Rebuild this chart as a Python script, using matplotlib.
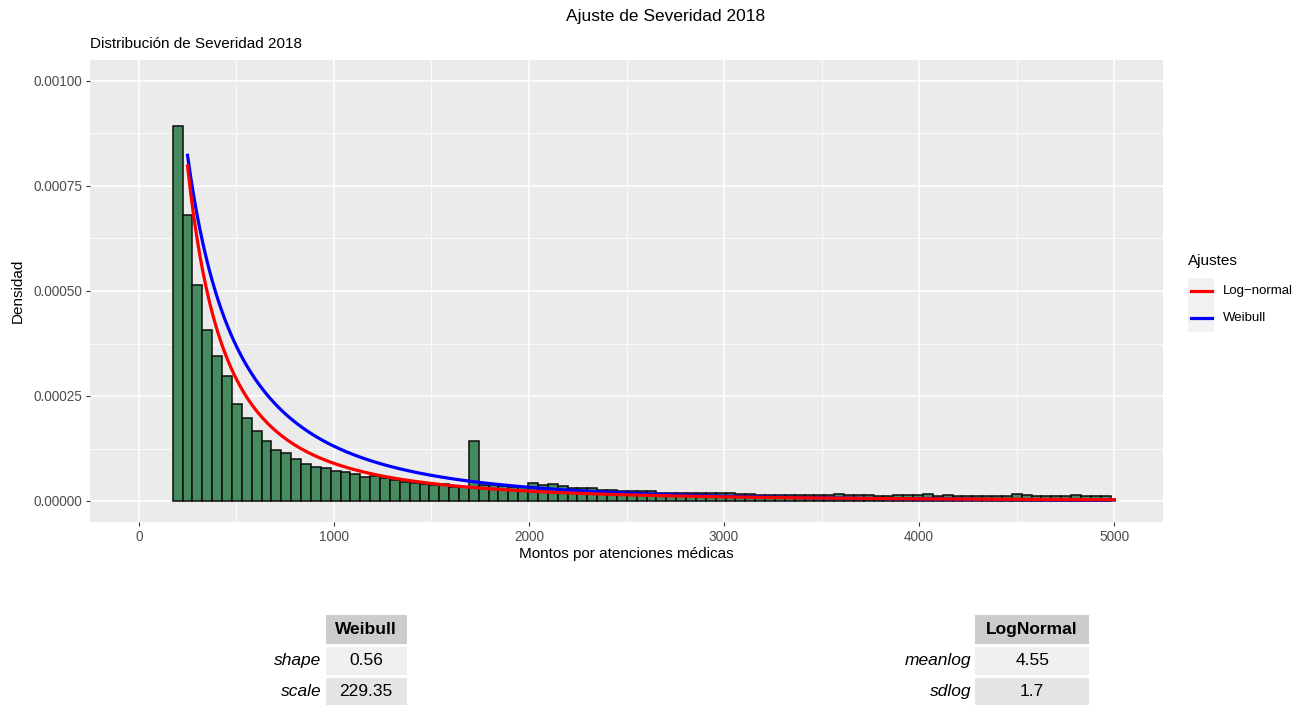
import numpy as np
import matplotlib.pyplot as plt
from matplotlib.lines import Line2D
from matplotlib.patches import Rectangle

plt.rcParams["font.family"] = ["Liberation Sans", "DejaVu Sans"]

W, H = 1315, 709

# histogram of amounts (density per bin), bins start at 174 with width ~50.6
bin_start = 174
bin_stop = 4981
density = [
    0.000894, 0.000681, 0.000515, 0.000408, 0.000346, 0.000297, 0.000232, 0.000198,
    0.000167, 0.000143, 0.000121, 0.000115, 0.000099, 0.000087, 0.000082, 0.000079,
    0.000072, 0.000070, 0.000064, 0.000056, 0.000060, 0.000054, 0.000051, 0.000046,
    0.000043, 0.000041, 0.000037, 0.000040, 0.000033, 0.000033, 0.000144, 0.000038,
    0.000037, 0.000035, 0.000033, 0.000033, 0.000042, 0.000039, 0.000040, 0.000035,
    0.000030, 0.000030, 0.000030, 0.000027, 0.000027, 0.000025, 0.000023, 0.000023,
    0.000023, 0.000019, 0.000019, 0.000020, 0.000020, 0.000019, 0.000018, 0.000018,
    0.000019, 0.000017, 0.000017, 0.000014, 0.000014, 0.000014, 0.000014, 0.000014,
    0.000014, 0.000014, 0.000014, 0.000017, 0.000014, 0.000014, 0.000014, 0.000011,
    0.000011, 0.000014, 0.000014, 0.000014, 0.000017, 0.000013, 0.000014, 0.000013,
    0.000013, 0.000011, 0.000011, 0.000011, 0.000011, 0.000017, 0.000014, 0.000011,
    0.000011, 0.000011, 0.000011, 0.000014, 0.000011, 0.000011, 0.000011,
]

# fitted parameters
weibull_shape = 0.56
weibull_scale = 229.35
lnorm_meanlog = 4.55
lnorm_sdlog = 1.7
curve_from, curve_to = 250, 5000

x_ticks = [0, 1000, 2000, 3000, 4000, 5000]
y_ticks = [0.0, 0.00025, 0.0005, 0.00075, 0.001]
y_ticklabels = ["0.00000", "0.00025", "0.00050", "0.00075", "0.00100"]


def dweibull(x, k, lam):
    return (k / lam) * (x / lam) ** (k - 1) * np.exp(-(x / lam) ** k)


def dlnorm(x, mu, sigma):
    return np.exp(-(np.log(x) - mu) ** 2 / (2 * sigma ** 2)) / (x * sigma * np.sqrt(2 * np.pi))


def fx(x):
    return x / W


def fy(y):
    return 1 - y / H


fig = plt.figure(figsize=(W / 100, H / 100), dpi=100)
ax = fig.add_axes([fx(90), fy(522), (1163 - 90) / W, (522 - 60) / H])
ax.set_facecolor("#EBEBEB")

edges = np.linspace(bin_start, bin_stop, len(density) + 1)
ax.bar(edges[:-1], density, width=np.diff(edges), align="edge",
       color="#468B60", edgecolor="#0d0d0d", linewidth=1.1, zorder=2)

xs = np.linspace(curve_from, curve_to, 600)
ax.plot(xs, dweibull(xs, weibull_shape, weibull_scale), color="#0000FF", lw=2.3, zorder=3)
ax.plot(xs, dlnorm(xs, lnorm_meanlog, lnorm_sdlog), color="#FF0000", lw=2.3, zorder=4)

ax.set_xlim(-250, 5250)
ax.set_ylim(-0.00005, 0.00105)
ax.set_xticks(x_ticks)
ax.set_xticklabels([str(t) for t in x_ticks])
ax.set_yticks(y_ticks)
ax.set_yticklabels(y_ticklabels)
ax.set_xticks([500, 1500, 2500, 3500, 4500], minor=True)
ax.set_yticks([0.000125, 0.000375, 0.000625, 0.000875], minor=True)
ax.grid(which="major", color="white", lw=1.1, zorder=0)
ax.grid(which="minor", color="white", lw=0.55, zorder=0)
ax.set_axisbelow(True)
for s in ax.spines.values():
    s.set_visible(False)
ax.tick_params(which="major", length=3.2, width=0.8, color="#333333",
               labelsize=9.8, labelcolor="#4D4D4D", pad=2.5)
ax.tick_params(which="minor", length=0)

ax.set_xlabel("Montos por atenciones médicas", fontsize=11, labelpad=2)
ax.set_ylabel("Densidad", fontsize=11, labelpad=6)

fig.text(fx(666), fy(17), "Ajuste de Severidad 2018", fontsize=12.5, ha="center", va="center")
fig.text(fx(90), fy(44), "Distribución de Severidad 2018", fontsize=11, ha="left", va="center")

# legend
fig.text(fx(1188), fy(261), "Ajustes", fontsize=11, ha="left", va="center")
fig.add_artist(Rectangle((fx(1188), fy(332)), (1214 - 1188) / W, (332 - 278) / H,
                         transform=fig.transFigure, facecolor="#F2F2F2", edgecolor="none"))
for yy, col, lab in [(291, "#FF0000", "Log−normal"), (318, "#0000FF", "Weibull")]:
    fig.add_artist(Line2D([fx(1191), fx(1212)], [fy(yy), fy(yy)], color=col, lw=2.3,
                          transform=fig.transFigure))
    fig.text(fx(1223), fy(yy), lab, fontsize=9.5, ha="left", va="center")


def draw_table(left, right, header, rows, values):
    bands = [(615, 643.7, "#CCCCCC"), (646.7, 675, "#F0F0F0"), (677.7, 705, "#E4E4E4")]
    for (top, bot, colr) in bands:
        fig.add_artist(Rectangle((fx(left), fy(bot)), (right - left) / W, (bot - top) / H,
                                 transform=fig.transFigure, facecolor=colr, edgecolor="none"))
    cx = (left + right) / 2
    fig.text(fx(cx), fy((bands[0][0] + bands[0][1]) / 2), header, fontsize=12.5,
             fontweight="bold", ha="center", va="center")
    for (top, bot, _), name, val in zip(bands[1:], rows, values):
        yc = (top + bot) / 2
        fig.text(fx(left - 4), fy(yc), name, fontsize=12.5, style="italic", ha="right", va="center")
        fig.text(fx(cx), fy(yc), val, fontsize=12.5, ha="center", va="center")


draw_table(325.7, 406.7, "Weibull", ["shape", "scale"],
           [f"{weibull_shape}", f"{weibull_scale}"])
draw_table(975, 1089.3, "LogNormal", ["meanlog", "sdlog"],
           [f"{lnorm_meanlog}", f"{lnorm_sdlog}"])

fig.savefig("out.png", dpi=100)
